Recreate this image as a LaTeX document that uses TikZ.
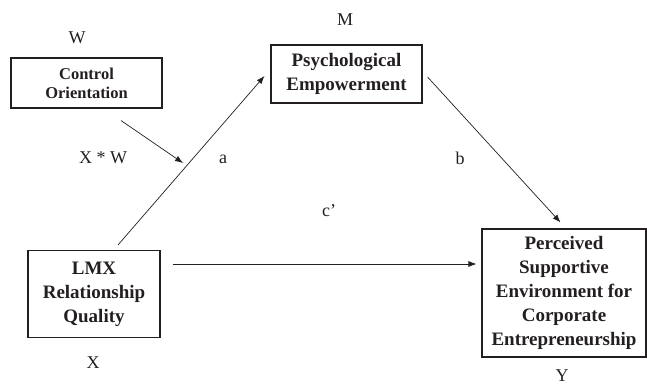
\documentclass[tikz,border=0pt]{standalone}
\usepackage{fontspec}
\setmainfont{Liberation Serif}
\usepackage{xcolor}
\usepackage{tikz}
\usetikzlibrary{arrows.meta, positioning, calc}
\definecolor{FigInk}{RGB}{35, 31, 32}

\tikzset{
  varbox/.style={draw=FigInk, line width=1.1pt, align=center, inner sep=0pt,
    text=FigInk, font=\fontsize{19}{24}\selectfont\bfseries},
  lbl/.style={text=FigInk, inner sep=0pt, font=\fontsize{18}{21}\selectfont},
  path arrow/.style={draw=FigInk, line width=0.7pt, -{Latex[length=8pt,width=6pt]}},
}

\begin{document}
\begin{tikzpicture}[x=1pt, y=-1pt]
  \useasboundingbox (0,0) rectangle (647,386);

  \node[varbox, minimum width=151pt, minimum height=50pt,
    font=\fontsize{16.5}{19}\selectfont\bfseries] (ctrl) at (86.5,83) {Control\\Orientation};
  \node[varbox, minimum width=151pt, minimum height=58pt] (psy) at (346.5,74) {Psychological\\Empowerment};
  \node[varbox, minimum width=132pt, minimum height=87pt] (lmx) at (94,294) {LMX\\Relationship\\Quality};
  \node[varbox, minimum width=164pt, minimum height=128pt] (pse) at (564,293)
    {Perceived\\Supportive\\Environment for\\Corporate\\Entrepreneurship};

  \node[lbl] (lblW) at (77,38) {W};
  \node[lbl] (lblM) at (345,20) {M};
  \node[lbl] (lblX) at (93,363) {X};
  \node[lbl] (lblY) at (562,376) {Y};
  \node[lbl] (lblXW) at (103,158) {X * W};
  \node[lbl] (lbla) at (223,159) {a};
  \node[lbl] (lblb) at (460,158) {b};
  \node[lbl] (lblc) at (329,211) {c’};

  \draw[path arrow] ([xshift=24pt,yshift=5pt]lmx.north)
    -- coordinate[pos=0.485] (amid) ([xshift=-6pt,yshift=-2pt]psy.west);
  \draw[path arrow] ([xshift=34.5pt,yshift=-12pt]ctrl.south) -- ([xshift=-6pt]amid);
  \draw[path arrow] ([xshift=5pt,yshift=-3pt]psy.east) -- ([xshift=-3.5pt,yshift=6pt]pse.north);
  \draw[path arrow] ([xshift=12pt,yshift=30pt]lmx.east) -- ([xshift=-5pt,yshift=29pt]pse.west);
\end{tikzpicture}
\end{document}
